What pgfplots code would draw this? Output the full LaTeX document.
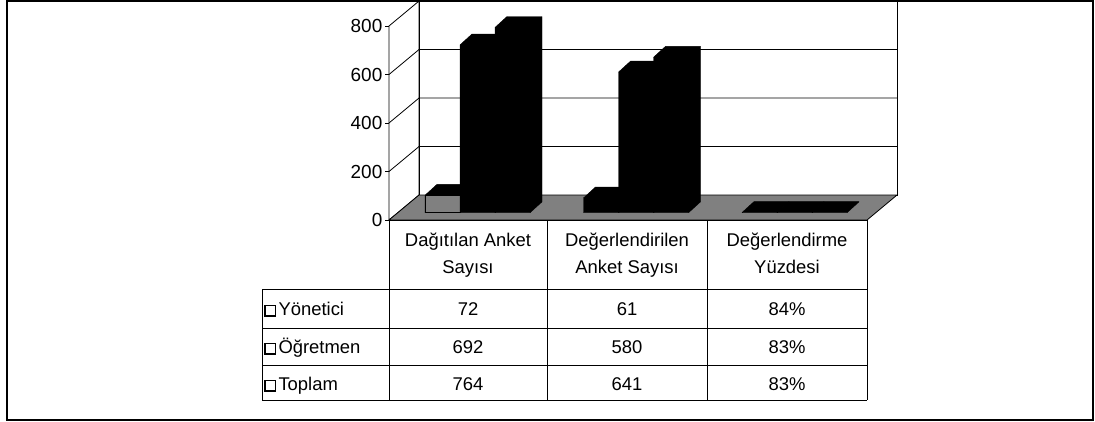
\documentclass[border=0pt]{standalone}
\usepackage{fontspec}
\setmainfont{Liberation Sans}
\usepackage{pgfplots}
\usepackage{pgfplotstable}
\pgfplotsset{compat=1.18}

\pgfplotstableread{
cat dag deg yuz
Yonetici 72 61 84
Ogretmen 692 580 83
Toplam 764 641 83
}\datatable

\newcommand{\fs}{\fontsize{18.5}{22}\selectfont}
\newcommand{\fst}{\fontsize{19}{22}\selectfont}
\def\bw{35}\def\ddx{12}\def\ddy{45}\def\bb{30}
\newcommand{\getv}[2]{\pgfplotstablegetelem{#1}{#2}\of\datatable\let\tdv\pgfplotsretval}
\newcommand{\tdbar}[2]{%
  \pgfmathsetmacro\xa{#1}%
  \pgfmathsetmacro\xb{#1+\bw}%
  \pgfmathsetmacro\xc{#1+\bw+\ddx}%
  \pgfmathsetmacro\xd{#1+\ddx}%
  \pgfmathsetmacro\ya{\bb}%
  \pgfmathsetmacro\yb{\bb+\ddy}%
  \pgfmathsetmacro\yc{\bb+\ddy+#2}%
  \pgfmathsetmacro\yd{\bb+#2}%
  \edef\tdtmp{\noexpand\addplot[fill=black,draw=black] coordinates {(\xa,\ya) (\xb,\ya) (\xc,\yb) (\xc,\yc) (\xd,\yc) (\xa,\yd)} -- cycle;}%
  \tdtmp}
\newcommand{\tdfront}[2]{%
  \pgfmathsetmacro\xa{#1}%
  \pgfmathsetmacro\xb{#1+\bw}%
  \pgfmathsetmacro\ya{\bb}%
  \pgfmathsetmacro\yd{\bb+#2}%
  \edef\tdtmp{\noexpand\addplot[fill=gray,draw=black,line width=1bp] coordinates {(\xa,\ya) (\xb,\ya) (\xb,\yd) (\xa,\yd)} -- cycle;}%
  \tdtmp}

\begin{document}
\begin{tikzpicture}
\begin{scope}[x=1bp,y=-1bp]
\useasboundingbox (0,0) rectangle (1095,421);
\end{scope}

\begin{axis}[
  at={(389bp,-220bp)}, anchor=south west,
  scale only axis, width=478bp, height=194bp,
  xmin=0, xmax=478, ymin=0, ymax=800,
  clip=false,
  axis x line=none, axis y line*=left,
  ytick={0,200,...,800}, xtick=\empty,
  tick align=outside, major tick length=4bp,
  tick style={black, line width=0.8bp},
  axis line style={black, line width=0.8bp},
  yticklabel style={font=\fst, inner sep=2.5bp},
  /pgf/number format/assume math mode=true,
]
% side wall and back wall
\draw[fill=white, line width=0.8bp] (axis cs:0,0) -- (axis cs:30,103) -- (axis cs:30,903) -- (axis cs:0,800) -- cycle;
\draw[fill=white, line width=0.8bp] (axis cs:30,103) rectangle (axis cs:508,903);
\draw[line width=0.8bp] (axis cs:0,200) -- (axis cs:30,303) -- (axis cs:508,303);
\draw[line width=0.8bp] (axis cs:0,400) -- (axis cs:30,503) -- (axis cs:508,503);
\draw[line width=0.8bp] (axis cs:0,600) -- (axis cs:30,703) -- (axis cs:508,703);
% floor
\draw[fill=gray, line width=0.8bp] (axis cs:0,0) -- (axis cs:478,0) -- (axis cs:508,103) -- (axis cs:30,103) -- cycle;

% category 1
\getv{0}{dag}\tdbar{36}{\tdv}\tdfront{36}{\tdv}
\getv{1}{dag}\tdbar{71}{\tdv}
\getv{2}{dag}\tdbar{106}{\tdv}
% category 2
\getv{0}{deg}\tdbar{194.5}{\tdv}
\getv{1}{deg}\tdbar{229.5}{\tdv}
\getv{2}{deg}\tdbar{264.5}{\tdv}
% category 3
\getv{0}{yuz}\pgfmathsetmacro\tdv{\tdv/100}\tdbar{353}{\tdv}
\getv{1}{yuz}\pgfmathsetmacro\tdv{\tdv/100}\tdbar{388}{\tdv}
\getv{2}{yuz}\pgfmathsetmacro\tdv{\tdv/100}\tdbar{423}{\tdv}
\end{axis}

\begin{scope}[x=1bp,y=-1bp, line width=1bp]
% outer frame
\draw[line width=1.2bp] (7,1) rectangle (1093,420);
% table
\draw (389,220) -- (867,220);
\draw (262,289) -- (867,289);
\draw (262,328) -- (867,328);
\draw (262,365) -- (867,365);
\draw (262,400) -- (867,400);
\draw (262,289) -- (262,400);
\draw (389,220) -- (389,400);
\draw (547,220) -- (547,400);
\draw (707,220) -- (707,400);
\draw (867,220) -- (867,400);
% headers
\node[font=\fs, anchor=base] at (468,246) {Dağıtılan Anket};
\node[font=\fs, anchor=base] at (468,273) {Sayısı};
\node[font=\fs, anchor=base] at (627,246) {Değerlendirilen};
\node[font=\fs, anchor=base] at (627,273) {Anket Sayısı};
\node[font=\fs, anchor=base] at (787,246) {Değerlendirme};
\node[font=\fs, anchor=base] at (787,273) {Yüzdesi};
% row labels with legend keys
\draw[line width=1.2bp] (265,305.5) rectangle (275.5,316);
\node[font=\fs, anchor=base west, inner sep=0pt] at (278,315) {Yönetici};
\draw[line width=1.2bp] (265,343.5) rectangle (275.5,354);
\node[font=\fs, anchor=base west, inner sep=0pt] at (278,353) {Öğretmen};
\draw[line width=1.2bp] (265,380.5) rectangle (275.5,391);
\node[font=\fs, anchor=base west, inner sep=0pt] at (278,390) {Toplam};
% values
\node[font=\fs, anchor=base] at (468,315) {\getv{0}{dag}\tdv};
\node[font=\fs, anchor=base] at (468,353) {\getv{1}{dag}\tdv};
\node[font=\fs, anchor=base] at (468,390) {\getv{2}{dag}\tdv};
\node[font=\fs, anchor=base] at (627,315) {\getv{0}{deg}\tdv};
\node[font=\fs, anchor=base] at (627,353) {\getv{1}{deg}\tdv};
\node[font=\fs, anchor=base] at (627,390) {\getv{2}{deg}\tdv};
\node[font=\fs, anchor=base] at (787,315) {\getv{0}{yuz}\tdv\%};
\node[font=\fs, anchor=base] at (787,353) {\getv{1}{yuz}\tdv\%};
\node[font=\fs, anchor=base] at (787,390) {\getv{2}{yuz}\tdv\%};
\end{scope}
\end{tikzpicture}
\end{document}
